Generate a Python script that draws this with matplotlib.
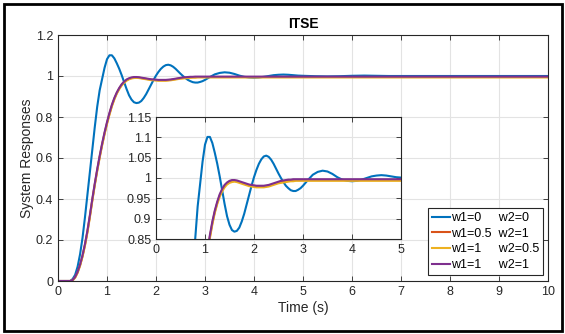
import matplotlib
matplotlib.use("Agg")
import matplotlib.pyplot as plt
from matplotlib.patches import Rectangle
from matplotlib.ticker import FormatStrFormatter

plt.rcParams['font.family'] = ['Liberation Sans', 'DejaVu Sans']

# time grid (s)
t = [0.00, 0.05, 0.10, 0.15, 0.20, 0.25, 0.30, 0.35, 0.40, 0.45,
     0.50, 0.55, 0.60, 0.65, 0.70, 0.75, 0.80, 0.85, 0.90, 0.95,
     1.00, 1.05, 1.10, 1.15, 1.20, 1.25, 1.30, 1.35, 1.40, 1.45,
     1.50, 1.55, 1.60, 1.65, 1.70, 1.75, 1.80, 1.85, 1.90, 1.95,
     2.00, 2.05, 2.10, 2.15, 2.20, 2.25, 2.30, 2.35, 2.40, 2.45,
     2.50, 2.55, 2.60, 2.65, 2.70, 2.75, 2.80, 2.85, 2.90, 2.95,
     3.00, 3.10, 3.20, 3.30, 3.40, 3.50, 3.60, 3.70, 3.80, 3.90,
     4.00, 4.10, 4.20, 4.30, 4.40, 4.50, 4.60, 4.70, 4.80, 4.90,
     5.00, 5.25, 5.50, 5.75, 6.00, 6.25, 6.50, 6.75, 7.00, 7.25,
     7.50, 7.75, 8.00, 8.25, 8.50, 8.75, 9.00, 9.25, 9.50, 9.75, 10.0]

# w1=0, w2=0
y_00 = [0, 0, 0, 0, 0, 0, 0.01, 0.03, 0.07, 0.13,
        0.21, 0.31, 0.42, 0.53, 0.64, 0.75, 0.85, 0.93, 0.985, 1.04,
        1.082, 1.101, 1.101, 1.086, 1.062, 1.035, 1.004, 0.970, 0.936, 0.906,
        0.885, 0.872, 0.868, 0.870, 0.878, 0.893, 0.912, 0.935, 0.958, 0.981,
        1.002, 1.020, 1.035, 1.046, 1.053, 1.055, 1.052, 1.045, 1.035, 1.023,
        1.011, 1.000, 0.990, 0.981, 0.975, 0.970, 0.968, 0.968, 0.971, 0.975,
        0.981, 0.995, 1.008, 1.015, 1.018, 1.016, 1.010, 1.002, 0.996, 0.993,
        0.992, 0.993, 0.996, 1.000, 1.004, 1.006, 1.007, 1.006, 1.004, 1.002,
        1.001, 0.999, 0.998, 0.999, 1.001, 1.002, 1.001, 1.000, 1.000, 1.000,
        1.000, 1.000, 1.000, 1.000, 1.000, 1.000, 1.000, 1.000, 1.000, 1.000, 1.000]

# w1=0.5, w2=1
y_05_1 = [0, 0, 0, 0, 0, 0, 0.004, 0.018, 0.042, 0.077,
          0.121, 0.176, 0.240, 0.315, 0.395, 0.470, 0.540, 0.605, 0.665, 0.720,
          0.770, 0.815, 0.856, 0.889, 0.917, 0.939, 0.957, 0.970, 0.980, 0.986,
          0.990, 0.992, 0.993, 0.992, 0.990, 0.988, 0.986, 0.984, 0.982, 0.981,
          0.980, 0.979, 0.979, 0.979, 0.979, 0.980, 0.981, 0.983, 0.985, 0.987,
          0.989, 0.990, 0.991, 0.992, 0.993, 0.994, 0.994, 0.995, 0.995, 0.995,
          0.995, 0.995, 0.995, 0.995, 0.995, 0.995, 0.995, 0.995, 0.995, 0.995,
          0.995, 0.995, 0.995, 0.995, 0.995, 0.995, 0.995, 0.995, 0.995, 0.995,
          0.995, 0.995, 0.995, 0.995, 0.995, 0.995, 0.995, 0.995, 0.995, 0.995,
          0.995, 0.995, 0.995, 0.995, 0.995, 0.995, 0.995, 0.995, 0.995, 0.995, 0.995]

# w1=1, w2=0.5
y_1_05 = [0, 0, 0, 0, 0, 0, 0.003, 0.016, 0.040, 0.074,
          0.118, 0.172, 0.236, 0.310, 0.390, 0.466, 0.536, 0.601, 0.661, 0.716,
          0.766, 0.811, 0.852, 0.886, 0.914, 0.936, 0.954, 0.967, 0.977, 0.984,
          0.988, 0.990, 0.991, 0.990, 0.988, 0.986, 0.984, 0.982, 0.980, 0.979,
          0.978, 0.977, 0.977, 0.977, 0.977, 0.978, 0.979, 0.981, 0.983, 0.985,
          0.987, 0.988, 0.989, 0.990, 0.991, 0.992, 0.992, 0.993, 0.993, 0.993,
          0.993, 0.993, 0.993, 0.993, 0.993, 0.993, 0.993, 0.993, 0.993, 0.993,
          0.993, 0.993, 0.993, 0.993, 0.993, 0.993, 0.993, 0.993, 0.993, 0.993,
          0.993, 0.993, 0.993, 0.993, 0.993, 0.993, 0.993, 0.993, 0.993, 0.993,
          0.993, 0.993, 0.993, 0.993, 0.993, 0.993, 0.993, 0.993, 0.993, 0.993, 0.993]

# w1=1, w2=1
y_1_1 = [0, 0, 0, 0, 0, 0, 0.005, 0.020, 0.045, 0.080,
         0.125, 0.180, 0.245, 0.320, 0.400, 0.475, 0.545, 0.610, 0.670, 0.725,
         0.775, 0.820, 0.860, 0.893, 0.920, 0.942, 0.960, 0.973, 0.983, 0.989,
         0.993, 0.995, 0.995, 0.994, 0.992, 0.990, 0.988, 0.986, 0.984, 0.983,
         0.982, 0.981, 0.981, 0.981, 0.981, 0.982, 0.983, 0.985, 0.987, 0.989,
         0.991, 0.993, 0.994, 0.995, 0.996, 0.996, 0.997, 0.997, 0.997, 0.997,
         0.997, 0.997, 0.997, 0.997, 0.997, 0.997, 0.997, 0.997, 0.997, 0.997,
         0.997, 0.997, 0.997, 0.997, 0.997, 0.997, 0.997, 0.997, 0.997, 0.997,
         0.997, 0.997, 0.997, 0.997, 0.997, 0.997, 0.997, 0.997, 0.997, 0.997,
         0.997, 0.997, 0.997, 0.997, 0.997, 0.997, 0.997, 0.997, 0.997, 0.997, 0.997]

series = [y_00, y_05_1, y_1_05, y_1_1]
colors = ['#0072BD', '#D95319', '#EDB120', '#7E2F8E']
labels = ['w1=0     w2=0', 'w1=0.5  w2=1', 'w1=1     w2=0.5', 'w1=1     w2=1']

W, H = 565, 334
fig = plt.figure(figsize=(W / 100, H / 100), dpi=100)
fig.patches.append(Rectangle((4 / W, 3 / H), 558 / W, 327 / H, transform=fig.transFigure,
                             fill=False, edgecolor='black', linewidth=2))

axcol = '#262626'


def style(ax):
    for s in ax.spines.values():
        s.set_color(axcol)
        s.set_linewidth(0.8)
    ax.tick_params(direction='in', length=3.5, width=0.6, color=axcol, labelcolor=axcol,
                   labelsize=9, top=True, right=True, pad=3.5)
    ax.grid(True, color='#e3e3e3', linewidth=0.8)
    ax.set_axisbelow(True)
    ax.xaxis.set_major_formatter(FormatStrFormatter('%g'))
    ax.yaxis.set_major_formatter(FormatStrFormatter('%g'))


ax = fig.add_axes([58 / W, (H - 281) / H, 490 / W, 246 / H])
lines = []
for y, c, lab in zip(series, colors, labels):
    ln, = ax.plot(t, y, color=c, lw=1.5, label=lab)
    lines.append(ln)
ax.set_xlim(0, 10)
ax.set_ylim(0, 1.2)
ax.set_xticks(range(0, 11))
ax.set_yticks([0, 0.2, 0.4, 0.6, 0.8, 1.0, 1.2])
style(ax)
ax.set_title('ITSE', fontsize=10, fontweight='bold', color='black', pad=5)
ax.set_xlabel('Time (s)', fontsize=10, color=axcol, labelpad=2)
ax.set_ylabel('System Responses', fontsize=10, color=axcol, labelpad=1)

leg = ax.legend(handles=lines, loc='lower right', bbox_to_anchor=(543 / W, (H - 275) / H),
                bbox_transform=fig.transFigure, borderaxespad=0, fontsize=9,
                handlelength=1.45, handletextpad=0.1, labelspacing=0.3, borderpad=0.3,
                fancybox=False, framealpha=1, edgecolor=axcol)
leg.get_frame().set_linewidth(0.8)

ins = fig.add_axes([156 / W, (H - 239) / H, 245 / W, 122 / H])
for y, c in zip(series, colors):
    ins.plot(t, y, color=c, lw=1.5)
ins.set_xlim(0, 5)
ins.set_ylim(0.85, 1.15)
ins.set_xticks([0, 1, 2, 3, 4, 5])
ins.set_yticks([0.85, 0.9, 0.95, 1.0, 1.05, 1.1, 1.15])
style(ins)

fig.savefig('out.png', dpi=100)
